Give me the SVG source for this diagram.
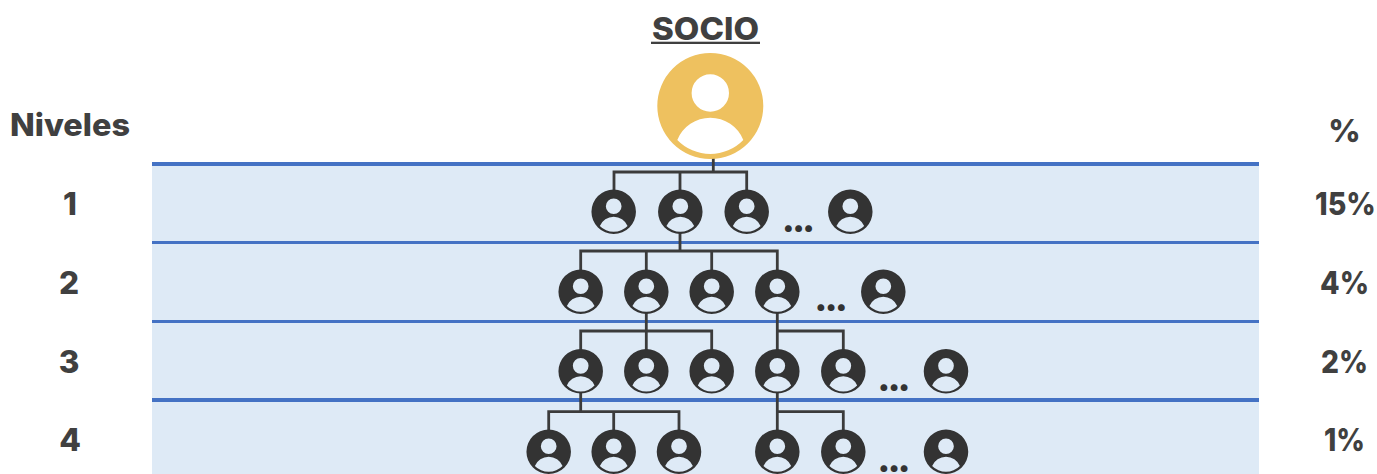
<svg xmlns="http://www.w3.org/2000/svg" width="1377" height="474" viewBox="0 0 1377 474">
<style>
.t{font-family:Inter,"Open Sans","Liberation Sans",sans-serif;font-weight:800;font-size:31.5px;fill:#404040}
.m{text-anchor:middle}
.d{font-family:Inter,"Liberation Sans",sans-serif;font-weight:900;font-size:34px;letter-spacing:-2.5px;fill:#333;text-anchor:start}
.c{fill:none;stroke:#3b3b3b;stroke-width:2.8}
.p{fill:#333;fill-rule:evenodd}
.g{fill:#eec15f;fill-rule:evenodd}
</style>
<defs>
<path id="person" d="M-53,0A53,53 0 1 1 53,0A53,53 0 1 1 -53,0Z M-18.7,-13A18.7,18.7 0 1 0 18.7,-13A18.7,18.7 0 1 0 -18.7,-13Z M-33,34A35.6,35.6 0 0 1 33,34A45.9,45.9 0 0 1 -33,34Z"/>
</defs>
<rect width="1377" height="474" fill="#fff"/>
<g id="bands">
<rect x="152" y="164" width="1107" height="310" fill="#deeaf6"/>
<rect x="152" y="162" width="1107" height="4" fill="#4472c4"/>
<rect x="152" y="241" width="1107" height="3" fill="#4472c4"/>
<rect x="152" y="320" width="1107" height="3" fill="#4472c4"/>
<rect x="152" y="398" width="1107" height="4" fill="#4472c4"/>
</g>
<g id="connectors" class="c">
<path d="M713.3,156V172M614,190V172H746.7V190M680,172V190"/>
<path d="M680,232V251M580.7,270V251H777.3V270M646.3,251V270M711.7,251V270"/>
<path d="M646.3,312V331M580.7,350V331H711.7V350M646.3,331V350"/>
<path d="M777.3,312V350M777.3,331H843.3V350"/>
<path d="M580.7,392V411.7M548.7,430V411.7H679V430M613.7,411.7V430"/>
<path d="M777.3,392V430M777.3,411.7H843.3V430"/>
</g>
<g id="socio"><use href="#person" class="g" transform="translate(710.3 106)"/></g>
<g id="n1-1"><use href="#person" class="p" transform="translate(613.7 211.7) scale(.42)"/></g>
<g id="n1-2"><use href="#person" class="p" transform="translate(680.3 211.7) scale(.42)"/></g>
<g id="n1-3"><use href="#person" class="p" transform="translate(746.7 211.7) scale(.42)"/></g>
<g id="n1-4"><use href="#person" class="p" transform="translate(850.3 211.7) scale(.42)"/></g>
<g id="n2-1"><use href="#person" class="p" transform="translate(580.7 291.7) scale(.42)"/></g>
<g id="n2-2"><use href="#person" class="p" transform="translate(646.3 291.7) scale(.42)"/></g>
<g id="n2-3"><use href="#person" class="p" transform="translate(711.7 291.7) scale(.42)"/></g>
<g id="n2-4"><use href="#person" class="p" transform="translate(777.3 291.7) scale(.42)"/></g>
<g id="n2-5"><use href="#person" class="p" transform="translate(883.3 291.7) scale(.42)"/></g>
<g id="n3-1"><use href="#person" class="p" transform="translate(580.7 371.3) scale(.42)"/></g>
<g id="n3-2"><use href="#person" class="p" transform="translate(646.3 371.3) scale(.42)"/></g>
<g id="n3-3"><use href="#person" class="p" transform="translate(711.7 371.3) scale(.42)"/></g>
<g id="n3-4"><use href="#person" class="p" transform="translate(777.3 371.3) scale(.42)"/></g>
<g id="n3-5"><use href="#person" class="p" transform="translate(843.3 371.3) scale(.42)"/></g>
<g id="n3-6"><use href="#person" class="p" transform="translate(946 371.3) scale(.42)"/></g>
<g id="n4-1"><use href="#person" class="p" transform="translate(548.7 451.7) scale(.42)"/></g>
<g id="n4-2"><use href="#person" class="p" transform="translate(613.7 451.7) scale(.42)"/></g>
<g id="n4-3"><use href="#person" class="p" transform="translate(679 451.7) scale(.42)"/></g>
<g id="n4-4"><use href="#person" class="p" transform="translate(777.3 451.7) scale(.42)"/></g>
<g id="n4-5"><use href="#person" class="p" transform="translate(843.3 451.7) scale(.42)"/></g>
<g id="n4-6"><use href="#person" class="p" transform="translate(946 451.7) scale(.42)"/></g>
<g id="ellipses">
<text class="d" x="782" y="231.5">...</text>
<text class="d" x="814.6" y="311">...</text>
<text class="d" x="877.5" y="391">...</text>
<text class="d" x="877.5" y="472">...</text>
</g>
<g id="labels">
<text class="t m" x="705.5" y="40" textLength="107" lengthAdjust="spacingAndGlyphs">SOCIO</text>
<rect x="651" y="41.7" width="109" height="2.3" fill="#404040"/>
<text class="t" x="10" y="135.7" textLength="120" lengthAdjust="spacingAndGlyphs">Niveles</text>
<text class="t m" x="70" y="215">1</text>
<text class="t m" x="69" y="294">2</text>
<text class="t m" x="69" y="372.5">3</text>
<text class="t m" x="70" y="451">4</text>
<text class="t m" x="1344.5" y="141.7">%</text>
<text class="t" transform="translate(1315 215) scale(.91 1)">15%</text>
<text class="t" x="1320" y="294" textLength="49" lengthAdjust="spacingAndGlyphs">4%</text>
<text class="t" x="1321" y="372.5" textLength="47" lengthAdjust="spacingAndGlyphs">2%</text>
<text class="t" x="1324" y="451" textLength="41" lengthAdjust="spacingAndGlyphs">1%</text>
</g>
</svg>
